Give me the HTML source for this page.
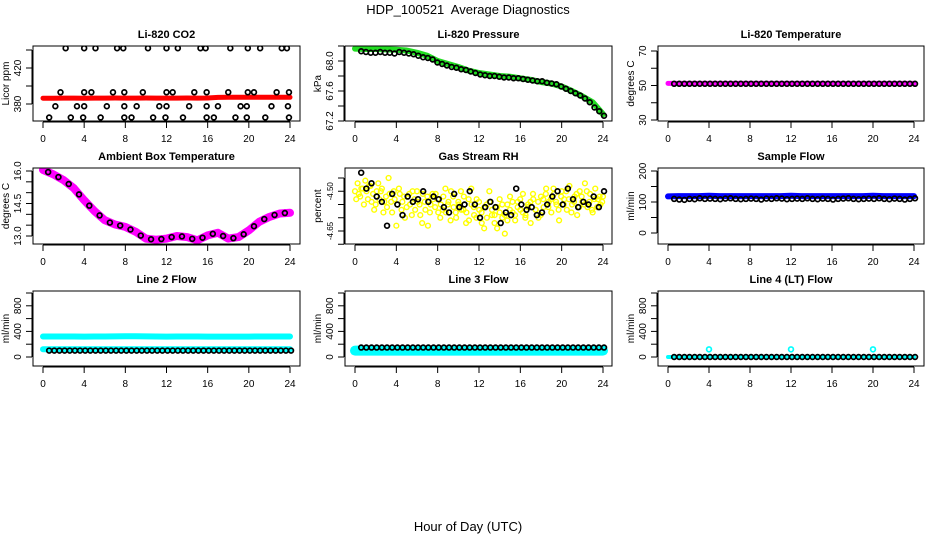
<!DOCTYPE html>
<html><head><meta charset="utf-8">
<style>
html,body{margin:0;padding:0;background:#fff;}
svg{display:block;font-family:"Liberation Sans",Arial,sans-serif;}
</style></head>
<body>
<svg id="chart" width="936" height="540" viewBox="0 0 936 540" xmlns="http://www.w3.org/2000/svg">
<text x="468" y="14" text-anchor="middle" font-size="13" style="white-space:pre">HDP_100521  Average Diagnostics</text>
<text x="468" y="531" text-anchor="middle" font-size="13">Hour of Day (UTC)</text>
</svg>
<script>
// ---- data ----
const hourTicks = [0,4,8,12,16,20,24];
const co2Red = [386.5,386.5,386.6,386.6,386.5,386.6,386.6,386.7,386.6,386.6,386.7,386.6,386.6,386.6,386.7,386.6,386.7,387.3,387.4,387.4,387.4,387.5,387.5,387.5,387.5];
const co2BlackHours = [2.2,4.0,5.1,7.2,7.8,10.2,12.0,13.1,15.3,15.8,18.2,19.9,21.1,23.2,23.7, 1.7,4.0,4.7,6.8,7.9,9.7,12.0,12.6,14.7,15.9,18.0,19.9,20.5,22.7,23.9, 1.2,3.3,4.0,6.2,7.9,9.1,11.3,12.0,14.2,15.9,17.0,19.2,19.8,22.2,23.8, 0.6,2.7,3.9,5.6,7.9,8.6,10.7,11.9,13.6,15.9,16.6,18.7,19.8,21.6,23.9];
const co2BlackVals = [442,442,442,442,442,442,442,442,442,442,442,442,442,442,442, 393,393,393,393,393,393,393,393,393,393,393,393,393,393,393, 377.5,377.5,377.5,377.5,377.5,377.5,377.5,377.5,377.5,377.5,377.5,377.5,377.5,377.5,377.5, 365,365,365,365,365,365,365,365,365,365,365,365,365,365,365];
const presGreen = [68.165,68.16,68.16,68.155,68.15,68.14,68.11,68.07,68.00,67.96,67.92,67.87,67.84,67.82,67.80,67.79,67.77,67.75,67.72,67.70,67.66,67.60,67.53,67.45,67.29];
const presBlack = [68.13,68.12,68.11,68.11,68.12,68.11,68.11,68.10,68.12,68.11,68.10,68.09,68.07,68.05,68.04,68.02,67.98,67.96,67.94,67.92,67.91,67.89,67.88,67.86,67.84,67.82,67.81,67.80,67.80,67.79,67.78,67.78,67.77,67.77,67.76,67.75,67.74,67.73,67.73,67.71,67.70,67.69,67.66,67.63,67.60,67.57,67.54,67.50,67.45,67.38,67.33,67.27];
const tempMagenta = [51.2,51.2,51.2,51.2,51.2,51.2,51.2,51.2,51.2,51.2,51.2,51.2,51.2,51.2,51.2,51.2,51.2,51.2,51.2,51.2,51.2,51.2,51.2,51.2,51.2];
const tempBlack = [51,51,51,51,51,51,51,51,51,51,51,51,51,51,51,51,51,51,51,51,51,51,51,51,51,51,51,51,51,51,51,51,51,51,51,51,51,51,51,51,51,51,51,51,51,51,51,51];
const ambMagenta = [16.05,15.85,15.58,15.2,14.65,14.15,13.73,13.53,13.42,13.2,12.88,12.83,12.88,13.0,12.95,12.8,13.03,13.15,12.88,12.95,13.26,13.65,13.88,14.04,14.07];
const ambBlack = [15.95,15.72,15.4,14.92,14.4,13.95,13.62,13.48,13.3,13.02,12.85,12.86,12.95,12.98,12.87,12.92,13.1,13.0,12.9,13.08,13.45,13.78,13.97,14.06];
const rhYellowA = [-4.50,-4.47,-4.52,-4.49,-4.46,-4.53,-4.48,-4.51,-4.55,-4.47,-4.50,-4.58,-4.52,-4.45,-4.54,-4.50,-4.63,-4.49,-4.57,-4.52,-4.56,-4.51,-4.59,-4.53,-4.50,-4.55,-4.62,-4.54,-4.52,-4.58,-4.51,-4.56,-4.53,-4.60,-4.57,-4.49,-4.55,-4.61,-4.52,-4.58,-4.54,-4.50,-4.57,-4.62,-4.53,-4.49,-4.56,-4.60,-4.54,-4.58,-4.64,-4.55,-4.50,-4.59,-4.62,-4.56,-4.53,-4.60,-4.66,-4.55,-4.52,-4.58,-4.61,-4.54,-4.57,-4.51,-4.59,-4.55,-4.62,-4.53,-4.57,-4.60,-4.52,-4.56,-4.49,-4.54,-4.58,-4.51,-4.55,-4.61,-4.50,-4.53,-4.57,-4.48,-4.55,-4.52,-4.59,-4.50,-4.54,-4.47,-4.56,-4.51,-4.58,-4.49,-4.53,-4.55,-4.52];
const rhYellowB = [-4.53,-4.51,-4.49,-4.55,-4.50,-4.48,-4.54,-4.57,-4.50,-4.53,-4.49,-4.54,-4.56,-4.51,-4.58,-4.53,-4.55,-4.51,-4.54,-4.60,-4.52,-4.55,-4.50,-4.57,-4.54,-4.59,-4.51,-4.57,-4.63,-4.55,-4.53,-4.51,-4.58,-4.55,-4.52,-4.58,-4.54,-4.50,-4.56,-4.60,-4.55,-4.57,-4.52,-4.58,-4.61,-4.55,-4.59,-4.53,-4.57,-4.62,-4.56,-4.60,-4.54,-4.57,-4.59,-4.64,-4.58,-4.55,-4.59,-4.61,-4.57,-4.54,-4.59,-4.56,-4.53,-4.58,-4.60,-4.56,-4.54,-4.51,-4.57,-4.54,-4.59,-4.53,-4.51,-4.56,-4.53,-4.49,-4.54,-4.57,-4.52,-4.55,-4.50,-4.53,-4.58,-4.54,-4.51,-4.56,-4.52,-4.55,-4.50,-4.54,-4.57,-4.53,-4.56,-4.52,-4.54];
const rhBlack = [-4.43,-4.49,-4.47,-4.52,-4.54,-4.63,-4.51,-4.55,-4.59,-4.52,-4.54,-4.53,-4.50,-4.54,-4.52,-4.53,-4.56,-4.58,-4.51,-4.56,-4.55,-4.50,-4.55,-4.60,-4.56,-4.54,-4.56,-4.62,-4.58,-4.59,-4.49,-4.55,-4.57,-4.56,-4.59,-4.58,-4.55,-4.52,-4.50,-4.55,-4.49,-4.53,-4.56,-4.54,-4.55,-4.52,-4.56,-4.50];
const sampleBlue = [118,119,119,119,120,119,119,119,119,119,119,119,120,119,119,119,119,119,119,119,120,119,119,119,119];
const sampleBlack = [110,108,107,110,109,112,110,111,110,109,111,112,110,109,110,111,110,108,111,110,112,111,109,110,111,110,112,110,109,111,110,108,110,111,112,110,109,110,111,110,112,110,109,111,110,108,110,112];
const line2CyanHigh = [320,320,320,320,318,320,320,322,324,324,322,320,318,320,320,320,318,318,318,318,318,320,320,320,320];
const line2CyanLow = [122,122,122,122,122,122,122,122,122,122,122,122,122,122,122,122,122,122,122,122,122,122,122,122,122];
const line2Black = [100,100,100,100,100,100,100,100,100,100,100,100,100,100,100,100,100,100,100,100,100,100,100,100,100,100,100,100,100,100,100,100,100,100,100,100,100,100,100,100,100,100,100,100,100,100,100,100];
const line3Cyan = [100,100,100,100,100,100,100,100,100,100,100,100,100,100,100,100,100,100,100,100,100,100,100,100,100];
const line3Black = [148,148,148,148,148,148,148,148,148,148,148,148,148,148,148,148,148,148,148,148,148,148,148,148,148,148,148,148,148,148,148,148,148,148,148,148,148,148,148,148,148,148,148,148,148,148,148,148];
const line4Cyan = [0,0,0,0,0,0,0,0,0,0,0,0,0,0,0,0,0,0,0,0,0,0,0,0,0];
const line4OutHours = [4,12,20];
const line4OutVals = [120,120,120];
const line4Black = [0,0,0,0,0,0,0,0,0,0,0,0,0,0,0,0,0,0,0,0,0,0,0,0,0,0,0,0,0,0,0,0,0,0,0,0,0,0,0,0,0,0,0,0,0,0,0,0];

const svg = document.getElementById('chart');
const NS = 'http://www.w3.org/2000/svg';
const cols = [{bx0:33,bx1:300,h0:43,h24:290},{bx0:345,bx1:612,h0:355,h24:603},{bx0:658,bx1:924,h0:668,h24:914}];
const rows = [{by0:46,by1:121},{by0:168,by1:244},{by0:291,by1:366}];

function mk(tag, attrs, parent){const e=document.createElementNS(NS,tag);for(const k in attrs)e.setAttribute(k,attrs[k]);(parent||svg).appendChild(e);return e;}

function panel(ci, ri, cfg){
  const c=cols[ci], r=rows[ri];
  const g=mk('g',{});
  
  
  const xs=h=>c.h0+(h/24)*(c.h24-c.h0);
  const ys=v=>r.by0+cfg.p1+(v-cfg.v1)/(cfg.v2-cfg.v1)*(cfg.p2-cfg.p1);
  const t=mk('text',{x:(c.bx0+c.bx1)/2,y:r.by0-8,'text-anchor':'middle','font-size':'11','font-weight':'bold'},g);
  t.textContent=cfg.title;
  
  
  const xa=mk('g',{},g);
  
  
  mk('line',{x1:xs(0),x2:xs(24),y1:r.by1+1,y2:r.by1+1,stroke:'#000'},xa);
  hourTicks.forEach(h=>{
    mk('line',{x1:xs(h),x2:xs(h),y1:r.by1+1,y2:r.by1+7,stroke:'#000'},xa);
    if(cfg.xlabels){const tl=mk('text',{x:xs(h),y:r.by1+21,'text-anchor':'middle','font-size':'10'},xa);tl.textContent=h;}
  });
  const ya=mk('g',{},g);
  
  
  const yt=cfg.yticks;
  const fs=cfg.yfs||10;
  mk('line',{x1:c.bx0-1,x2:c.bx0-1,y1:ys(yt[0]),y2:ys(yt[yt.length-1]),stroke:'#000'},ya);
  yt.forEach((v,i)=>{
    const y=ys(v);
    mk('line',{x1:c.bx0-7,x2:c.bx0-1,y1:y,y2:y,stroke:'#000'},ya);
    if(cfg.ylabels[i]){const tl=mk('text',{x:c.bx0-12,y:y,'text-anchor':'middle','font-size':fs,transform:`rotate(-90 ${c.bx0-12} ${y})`},ya);tl.textContent=cfg.ylabels[i];}
  });
  const yl=mk('text',{x:c.bx0-24,y:(r.by0+r.by1)/2,'text-anchor':'middle','font-size':'10',transform:`rotate(-90 ${c.bx0-24} ${(r.by0+r.by1)/2})`},ya);
  yl.textContent=cfg.ylab;
  
  
  const clipId='clip'+ci+ri;
  const cp=mk('clipPath',{id:clipId},g);mk('rect',{x:c.bx0,y:r.by0,width:c.bx1-c.bx0,height:r.by1-r.by0},cp);
  const plot=mk('g',{'clip-path':`url(#${clipId})`},g);
  
  
  const band=(vals,color,w,name,start,end)=>{
    const s=start||0,e=end===undefined?24:end;
    const pts=vals.map((v,i)=>xs(s+i*(e-s)/(vals.length-1)).toFixed(1)+','+ys(v).toFixed(1)).join(' ');
    const pl=mk('polyline',{points:pts,fill:'none',stroke:color,'stroke-width':w,'stroke-linejoin':'round','stroke-linecap':'round'},plot);
    
    
  };
  const dots=(times,vals,color,name,sw)=>{
    const dg=mk('g',{},plot);
    
    
    vals.forEach((v,i)=>{const ci2=mk('circle',{cx:xs(times(i)),cy:ys(v),r:2.4,fill:'none',stroke:color,'stroke-width':sw||1.7},dg);
      
      });
  };
  cfg.draw(band,dots);
  mk('rect',{x:c.bx0,y:r.by0,width:c.bx1-c.bx0,height:r.by1-r.by0,fill:'none',stroke:'#000','stroke-width':1},g);
}
const half=n=>i=>0.6+i*(23.5/(n-1));

panel(0,0,{name:'co2',title:'Li-820 CO2',ylab:'Licor ppm',v1:440,p1:4,v2:380,p2:58,yticks:[440,420,400,380],ylabels:['','420','','380'],xlabels:true,
 draw:(band,dots)=>{band(co2Red,'#ff0000',5,'co2-red-series');dots(i=>co2BlackHours[i],co2BlackVals,'#000','co2-black-series');}});
panel(1,0,{name:'pressure',title:'Li-820 Pressure',ylab:'kPa',v1:68.2,p1:0,v2:67.2,p2:75,yticks:[68.2,68.0,67.8,67.6,67.4,67.2],ylabels:['','68.0','','67.6','','67.2'],xlabels:true,
 draw:(band,dots)=>{band(presGreen,'#22dd22',6,'pressure-green-series');dots(half(presBlack.length),presBlack,'#000','pressure-black-series');}});
panel(2,0,{name:'temperature',title:'Li-820 Temperature',ylab:'degrees C',v1:70,p1:5,v2:30,p2:74,yticks:[70,60,50,40,30],ylabels:['70','','50','','30'],xlabels:true,
 draw:(band,dots)=>{band(tempMagenta,'#ff00ff',5,'temperature-magenta-series');dots(half(tempBlack.length),tempBlack,'#000','temperature-black-series');}});
panel(0,1,{name:'ambient',title:'Ambient Box Temperature',ylab:'degrees C',v1:16,p1:3,v2:13,p2:68,yticks:[16,15.5,15,14.5,14,13.5,13],ylabels:['16.0','','','14.5','','','13.0'],xlabels:true,
 draw:(band,dots)=>{band(ambMagenta,'#ff00ff',8,'ambient-magenta-series');dots(i=>0.5+i,ambBlack,'#000','ambient-black-series');}});
panel(1,1,{name:'rh',title:'Gas Stream RH',ylab:'percent',v1:-4.45,p1:10,v2:-4.65,p2:63,yfs:8,yticks:[-4.45,-4.5,-4.55,-4.6,-4.65,-4.7],ylabels:['','-4.50','','','-4.65',''],xlabels:true,
 draw:(band,dots)=>{dots(i=>i*24/(rhYellowA.length-1),rhYellowA,'#ffff00','rh-yellow-series-a',1.4);dots(i=>0.12+i*23.8/(rhYellowB.length-1),rhYellowB,'#ffff00','rh-yellow-series-b',1.4);dots(half(rhBlack.length),rhBlack,'#000','rh-black-series');}});
panel(2,1,{name:'sample-flow',title:'Sample Flow',ylab:'ml/min',v1:200,p1:3,v2:0,p2:65,yticks:[200,150,100,50,0],ylabels:['200','','100','','0'],xlabels:true,
 draw:(band,dots)=>{band(sampleBlue,'#0000ff',6,'sample-blue-series');dots(half(sampleBlack.length),sampleBlack,'#000','sample-black-series');}});
panel(0,2,{name:'line2',title:'Line 2 Flow',ylab:'ml/min',v1:1000,p1:2,v2:0,p2:66,yticks:[1000,800,600,400,200,0],ylabels:['','800','','400','','0'],xlabels:true,
 draw:(band,dots)=>{band(line2CyanHigh,'#00ffff',6,'line2-cyan-high-series');band(line2CyanLow,'#00ffff',6,'line2-cyan-low-series');dots(half(line2Black.length),line2Black,'#000','line2-black-series');}});
panel(1,2,{name:'line3',title:'Line 3 Flow',ylab:'ml/min',v1:1000,p1:2,v2:0,p2:66,yticks:[1000,800,600,400,200,0],ylabels:['','800','','400','','0'],xlabels:true,
 draw:(band,dots)=>{band(line3Cyan,'#00ffff',10,'line3-cyan-series');dots(half(line3Black.length),line3Black,'#000','line3-black-series');}});
panel(2,2,{name:'line4',title:'Line 4 (LT) Flow',ylab:'ml/min',v1:1000,p1:2,v2:0,p2:66,yticks:[1000,800,600,400,200,0],ylabels:['','800','','400','','0'],xlabels:true,
 draw:(band,dots)=>{band(line4Cyan,'#00ffff',4,'line4-cyan-series');dots(i=>line4OutHours[i],line4OutVals,'#00ffff','line4-cyan-outliers');dots(half(line4Black.length),line4Black,'#000','line4-black-series');}});
</script>
</body></html>
